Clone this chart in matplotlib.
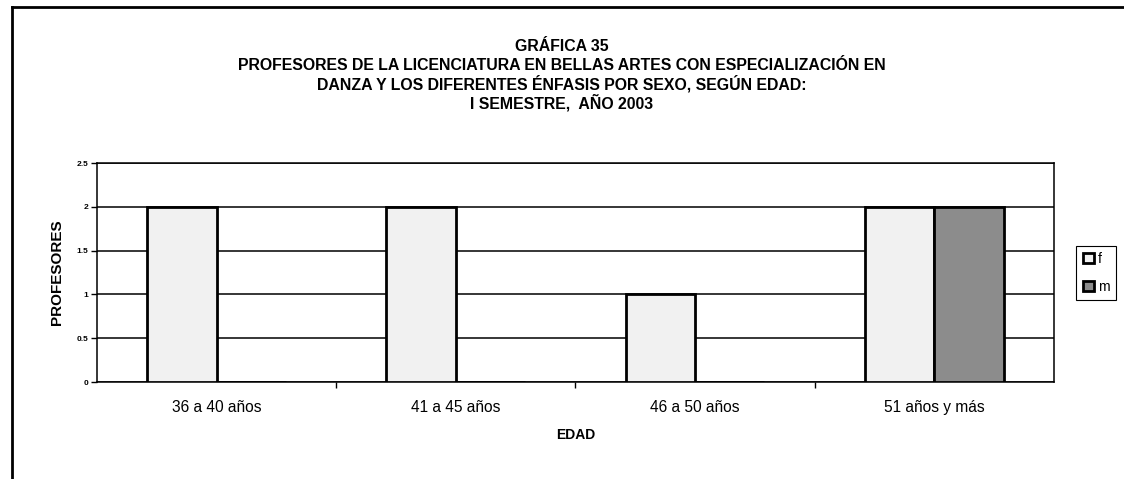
import numpy as np
from matplotlib import pyplot as plt
from matplotlib.lines import Line2D

plt.rcParams['font.family'] = ['Liberation Sans', 'DejaVu Sans']

categories = ['36 a 40 años', '41 a 45 años', '46 a 50 años', '51 años y más']
f_vals = [2, 2, 1, 2]
m_vals = [0, 0, 0, 2]
series = ['f', 'm']
title_lines = ['GRÁFICA 35',
               'PROFESORES DE LA LICENCIATURA EN BELLAS ARTES CON ESPECIALIZACIÓN EN',
               'DANZA Y LOS DIFERENTES ÉNFASIS POR SEXO, SEGÚN EDAD:',
               'I SEMESTRE,  AÑO 2003']

fig = plt.figure(figsize=(11.24, 4.79), dpi=100)
ax = fig.add_axes([0.0863, 0.2025, 0.8514, 0.4572])

x = np.arange(len(categories))
w = 0.29
ax.bar(x - w / 2, f_vals, w, color='#f1f1f1', edgecolor='black', linewidth=2, label=series[0], zorder=3)
ax.bar(x + w / 2, m_vals, w, color='#8c8c8c', edgecolor='black', linewidth=2, label=series[1], zorder=3)

ax.set_xlim(-0.5, len(categories) - 0.5)
ax.set_ylim(0, 2.5)
ax.set_yticks([0, 0.5, 1, 1.5, 2, 2.5])
ax.set_yticklabels(['0', '0.5', '1', '1.5', '2', '2.5'], fontsize=6, fontweight='bold')
ax.yaxis.grid(True, color='black', linewidth=1.1, zorder=0)
ax.set_axisbelow(True)

ax.set_xticks(x)
ax.set_xticklabels(categories, fontsize=11.2)
ax.tick_params(axis='x', length=0, pad=13)
ax.set_xticks(np.arange(len(categories) - 1) + 0.5, minor=True)
ax.tick_params(axis='x', which='minor', length=4, direction='out', width=1)
ax.tick_params(axis='y', length=4, width=1, pad=2)
for s in ax.spines.values():
    s.set_linewidth(1.1)

ax.set_xlabel('EDAD', fontsize=10, fontweight='bold', labelpad=9)
ax.set_ylabel('PROFESORES', fontsize=11, fontweight='bold', labelpad=9)

# title lines, one per row so accents don't shift spacing
for i, line in enumerate(title_lines):
    fig.text(0.5, 0.8935 - i * 0.0397, line, ha='center', va='baseline',
             fontsize=11.4, fontweight='bold')

leg = fig.legend(loc='upper left', bbox_to_anchor=(0.9515, 0.5015), fontsize=10,
                 handlelength=0.8, handleheight=0.8, handletextpad=0.3, borderpad=0.45,
                 labelspacing=1.0, fancybox=False, edgecolor='black', framealpha=1)
leg.get_frame().set_linewidth(0.8)

# outer frame of the scanned chart (top and left only)
fig.add_artist(Line2D([0.0107, 1.0], [0.985, 0.985], color='black', linewidth=2, transform=fig.transFigure))
fig.add_artist(Line2D([0.0107, 0.0107], [0.0, 0.985], color='black', linewidth=2, transform=fig.transFigure))

fig.savefig('out.png', dpi=100)
